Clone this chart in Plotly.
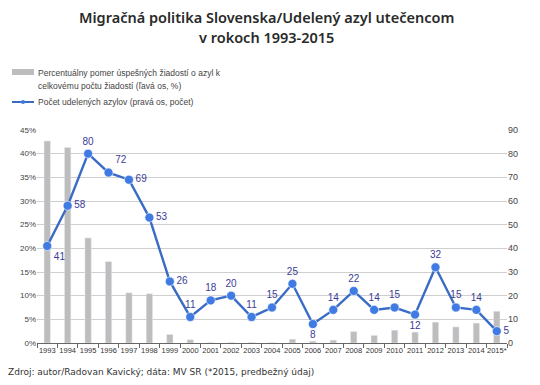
import plotly.graph_objects as go

years = ["1993","1994","1995","1996","1997","1998","1999","2000","2001","2002","2003","2004",
         "2005","2006","2007","2008","2009","2010","2011","2012","2013","2014","2015*"]
success_pct = [42.7, 41.3, 22.2, 17.2, 10.6, 10.4, 1.8, 0.7, 0.1, 0.1, 0.1, 0.1,
               0.8, 0.4, 0.6, 2.4, 1.6, 2.7, 2.3, 4.4, 3.4, 4.2, 6.7]
granted = [41, 58, 80, 72, 69, 53, 26, 11, 18, 20, 11, 15, 25, 8, 14, 22, 14, 15, 12, 32, 15, 14, 5]
label_pos = ["bottom right", "middle right", "top center", "top right", "middle right", "middle right",
             "middle right", "top center", "top center", "top center", "top center", "top center",
             "top center", "bottom center", "top center", "top center", "top center", "top center",
             "bottom center", "top center", "top center", "top center", "middle right"]
left_ticks = [0, 5, 10, 15, 20, 25, 30, 35, 40, 45]
right_ticks = [0, 10, 20, 30, 40, 50, 60, 70, 80, 90]

FONT = "DejaVu Sans"
SANS = "Liberation Sans"
TITLE_FONT = "Noto Sans"
BAR_C = "#bdbdbd"
LINE_C = "#3a6cc6"
MARK_C = "#3f7be3"
LBL_C = "#3b3b96"

OFF = 8  # page body margin
FW, FH = 532, 377
L, R, T, B = 29, 33, 122, 42
PW, PH = FW - L - R, FH - T - B

def px(xr):
    return (xr - OFF - L) / PW

def py(yr):
    return (FH - B - (yr - OFF)) / PH

fig = go.Figure()
fig.add_trace(go.Bar(x=years, y=success_pct, marker_color=BAR_C, width=0.31,
                     showlegend=False, hoverinfo="x+y"))
fig.add_trace(go.Scatter(x=years, y=granted, yaxis="y2", mode="lines+markers+text",
                         line=dict(color=LINE_C, width=2.4),
                         marker=dict(color=MARK_C, size=9, line=dict(color="white", width=0.6)),
                         text=[str(v) for v in granted], textposition=label_pos,
                         textfont=dict(family=SANS, size=10, color=LBL_C),
                         showlegend=False, cliponaxis=False))

fig.update_layout(
    width=FW, height=FH,
    margin=dict(l=L, r=R, t=T, b=B),
    paper_bgcolor="white", plot_bgcolor="white",
    font=dict(family=FONT, color="#444"),
    showlegend=False,
    xaxis=dict(type="category", range=[-0.5, len(years) - 0.5], tickson="boundaries",
               ticks="outside", ticklen=4,
               tickcolor="#666", showline=True, linecolor="#666", linewidth=1,
               tickfont=dict(family=SANS, size=7.5, color="#333"), tickangle=0,
               showgrid=False, automargin=False),
    yaxis=dict(range=[0, 45], tickvals=left_ticks, ticktext=[f"{v}%" for v in left_ticks],
               showgrid=True, gridcolor="#cfcfcf", gridwidth=1, zeroline=False,
               tickfont=dict(family=SANS, size=8, color="#444"), ticks="", showline=False,
               automargin=False),
    yaxis2=dict(range=[0, 90], tickvals=right_ticks, overlaying="y", side="right",
                showgrid=False, zeroline=False, tickfont=dict(family=SANS, size=9, color="#444"),
                ticks="", showline=False, automargin=False),
)

# title (two centred lines)
fig.add_annotation(xref="paper", yref="paper", x=px(266), y=py(17), xanchor="center", yanchor="middle",
                   showarrow=False, text="Migračná politika Slovenska/Udelený azyl utečencom",
                   font=dict(family=TITLE_FONT, size=14.5, color="#2a2a2a", weight=600))
fig.add_annotation(xref="paper", yref="paper", x=px(266), y=py(37), xanchor="center", yanchor="middle",
                   showarrow=False, text="v rokoch 1993-2015",
                   font=dict(family=TITLE_FONT, size=14.5, color="#2a2a2a", weight=600))

# legend (manual)
fig.add_shape(type="rect", xref="paper", yref="paper", x0=px(12), x1=px(34),
              y0=py(75), y1=py(69), fillcolor=BAR_C, line_width=0)
fig.add_shape(type="line", xref="paper", yref="paper", x0=px(12), x1=px(34),
              y0=py(102), y1=py(102), line=dict(color=LINE_C, width=2))
fig.add_shape(type="circle", xref="paper", yref="paper", x0=px(21), x1=px(25),
              y0=py(104), y1=py(100), fillcolor=MARK_C, line_width=0)
fig.add_annotation(xref="paper", yref="paper", x=px(36), y=py(73), xanchor="left", yanchor="middle",
                   align="left", showarrow=False,
                   text="Percentuálny pomer úspešných žiadostí o azyl k",
                   font=dict(family=SANS, size=8.5, color="#444"))
fig.add_annotation(xref="paper", yref="paper", x=px(36), y=py(86), xanchor="left", yanchor="middle",
                   align="left", showarrow=False,
                   text="celkovému počtu žiadostí (ľavá os, %)",
                   font=dict(family=SANS, size=8.5, color="#444"))
fig.add_annotation(xref="paper", yref="paper", x=px(36), y=py(102), xanchor="left", yanchor="middle",
                   align="left", showarrow=False,
                   text="Počet udelených azylov (pravá os, počet)",
                   font=dict(family=SANS, size=8.5, color="#444"))
fig.add_annotation(xref="paper", yref="paper", x=px(6), y=py(372), xanchor="left", yanchor="middle",
                   showarrow=False, text="Zdroj: autor/Radovan Kavický; dáta: MV SR (*2015, predbežný údaj)",
                   font=dict(family=FONT, size=9, color="#333"))

fig.write_html("out.html")
